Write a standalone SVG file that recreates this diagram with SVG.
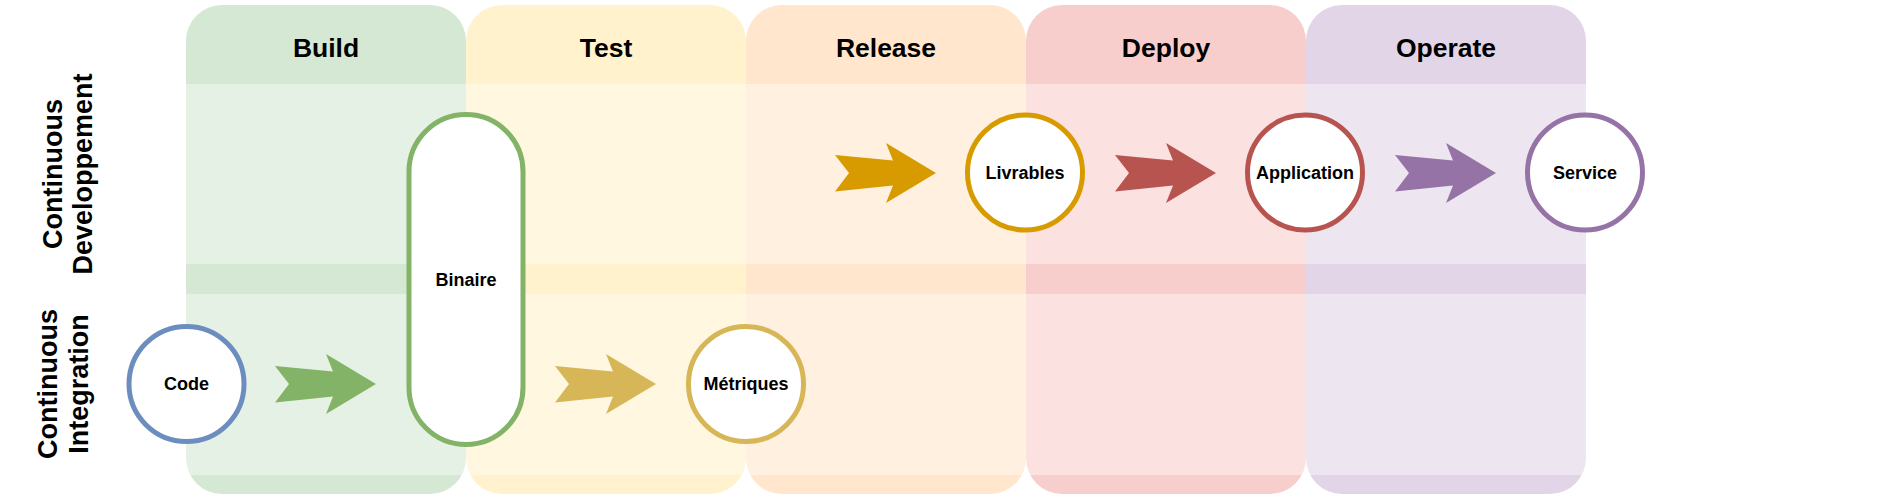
<svg xmlns="http://www.w3.org/2000/svg" width="1883" height="498" viewBox="0 0 1883 498">
<defs>
<style>
.hdr{font-family:"Liberation Sans",Arial,sans-serif;font-weight:bold;font-size:26.5px;fill:#000;text-anchor:middle}
.row{font-family:"Liberation Sans",Arial,sans-serif;font-weight:bold;font-size:27px;fill:#000;text-anchor:middle}
.lbl{font-family:"Liberation Sans",Arial,sans-serif;font-weight:bold;font-size:18px;fill:#000;text-anchor:middle}
.node{fill:#fff;stroke-width:5}
.lane{fill:#fff;fill-opacity:0.4}
</style>
</defs>
<rect width="1883" height="498" fill="#fff"/>
<g id="col-build"><rect x="186" y="5" width="280" height="489" rx="36" fill="#d5e8d4"/><text class="hdr" x="326" y="57">Build</text></g>
<g id="col-test"><rect x="466" y="5" width="280" height="489" rx="36" fill="#fff2cc"/><text class="hdr" x="606" y="57">Test</text></g>
<g id="col-release"><rect x="746" y="5" width="280" height="489" rx="36" fill="#ffe6cc"/><text class="hdr" x="886" y="57">Release</text></g>
<g id="col-deploy"><rect x="1026" y="5" width="280" height="489" rx="36" fill="#f8cecc"/><text class="hdr" x="1166" y="57">Deploy</text></g>
<g id="col-operate"><rect x="1306" y="5" width="280" height="489" rx="36" fill="#e1d5e7"/><text class="hdr" x="1446" y="57">Operate</text></g>
<g id="lane-cd">
<rect class="lane" x="186" y="84" width="1400" height="180"/>
<text class="row" transform="translate(62,174) rotate(-90)">Continuous</text>
<text class="row" transform="translate(91.5,174) rotate(-90)">Developpement</text>
</g>
<g id="lane-ci">
<rect class="lane" x="186" y="294" width="1400" height="181"/>
<text class="row" transform="translate(57,384) rotate(-90)">Continuous</text>
<text class="row" transform="translate(88,384) rotate(-90)">Integration</text>
</g>
<g id="connectors">
<path fill="#82b366" d="M275,366 L333,371.5 L326,354 L376,384 L326,414 L333,396.5 L275,402.5 L289,384 Z"/>
<path fill="#d6b656" d="M555,366 L613,371.5 L606,354 L656,384 L606,414 L613,396.5 L555,402.5 L569,384 Z"/>
<path fill="#d79b00" d="M835,155 L893,160.5 L886,143 L936,173 L886,203 L893,185.5 L835,191.5 L849,173 Z"/>
<path fill="#b85450" d="M1115,155 L1173,160.5 L1166,143 L1216,173 L1166,203 L1173,185.5 L1115,191.5 L1129,173 Z"/>
<path fill="#9673a6" d="M1395,155 L1453,160.5 L1446,143 L1496,173 L1446,203 L1453,185.5 L1395,191.5 L1409,173 Z"/>
</g>
<g id="code"><circle class="node" cx="186.5" cy="384" r="57.5" stroke="#6c8ebf"/><text class="lbl" x="186.5" y="390">Code</text></g>
<g id="binaire"><rect class="node" x="409" y="114.5" width="114" height="330" rx="57" stroke="#82b366"/><text class="lbl" x="466" y="286">Binaire</text></g>
<g id="metriques"><circle class="node" cx="746" cy="384" r="57.5" stroke="#d6b656"/><text class="lbl" x="746" y="390">Métriques</text></g>
<g id="livrables"><circle class="node" cx="1025" cy="172.5" r="57.5" stroke="#d79b00"/><text class="lbl" x="1025" y="178.5">Livrables</text></g>
<g id="application"><circle class="node" cx="1305" cy="172.5" r="57.5" stroke="#b85450"/><text class="lbl" x="1305" y="178.5">Application</text></g>
<g id="service"><circle class="node" cx="1585" cy="172.5" r="57.5" stroke="#9673a6"/><text class="lbl" x="1585" y="178.5">Service</text></g>
</svg>
